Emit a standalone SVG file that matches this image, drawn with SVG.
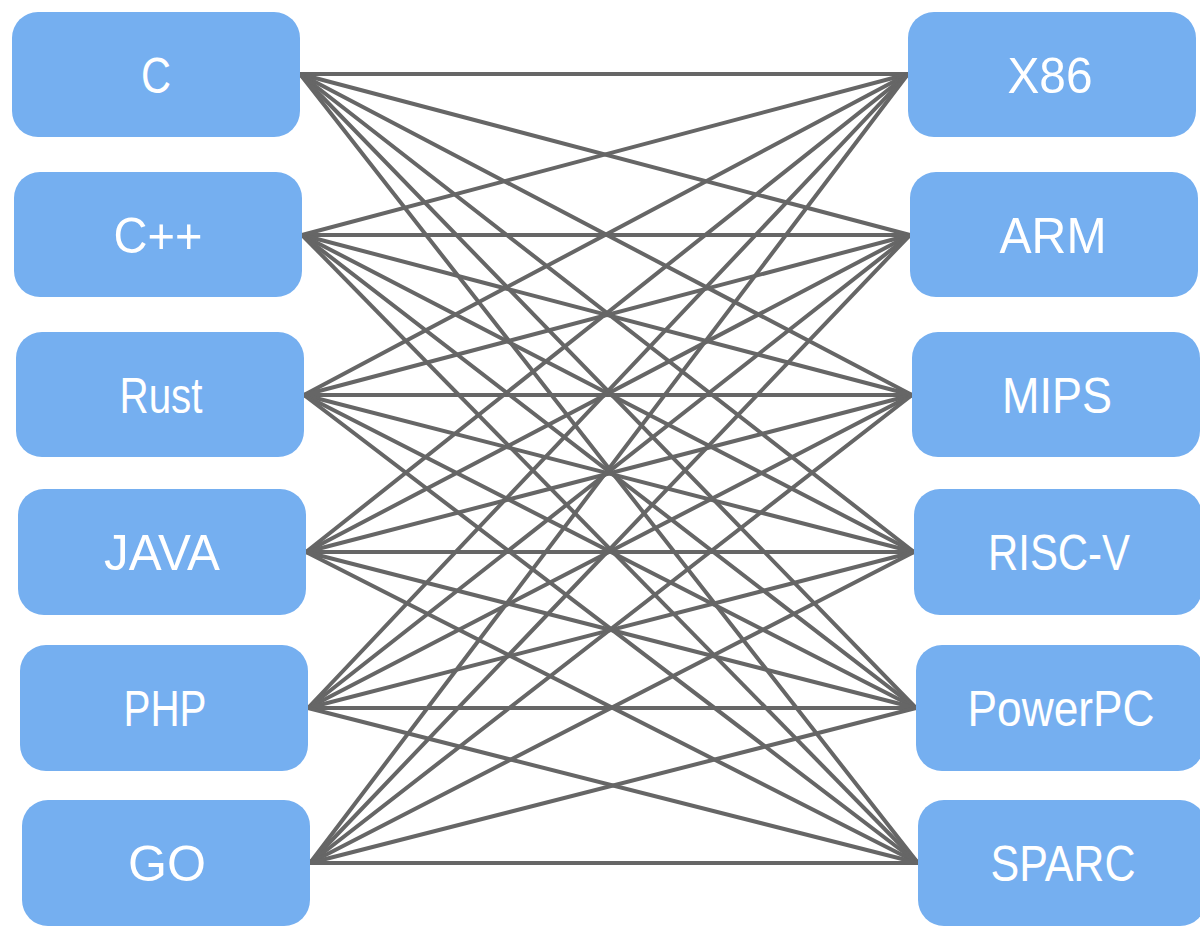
<svg xmlns="http://www.w3.org/2000/svg" width="1200" height="927" viewBox="0 0 1200 927">
<style>
.box{fill:#75AFF0;}
.lbl{fill:#ffffff;font-family:"Liberation Sans",Arial,sans-serif;font-size:50px;text-anchor:middle;}
.edge{stroke:#666666;stroke-width:4;stroke-linecap:round;fill:none;}
</style>
<rect width="1200" height="927" fill="#ffffff"/>
<g id="connectors">
<!-- C -->
<line class="edge" x1="300" y1="74" x2="908" y2="74"/>
<line class="edge" x1="300" y1="74" x2="910" y2="235"/>
<line class="edge" x1="300" y1="74" x2="912" y2="395"/>
<line class="edge" x1="300" y1="74" x2="914" y2="552"/>
<line class="edge" x1="300" y1="74" x2="916" y2="708"/>
<line class="edge" x1="300" y1="74" x2="918" y2="863"/>
<!-- C++ -->
<line class="edge" x1="302" y1="235" x2="908" y2="74"/>
<line class="edge" x1="302" y1="235" x2="910" y2="235"/>
<line class="edge" x1="302" y1="235" x2="912" y2="395"/>
<line class="edge" x1="302" y1="235" x2="914" y2="552"/>
<line class="edge" x1="302" y1="235" x2="916" y2="708"/>
<line class="edge" x1="302" y1="235" x2="918" y2="863"/>
<!-- Rust -->
<line class="edge" x1="304" y1="395" x2="908" y2="74"/>
<line class="edge" x1="304" y1="395" x2="910" y2="235"/>
<line class="edge" x1="304" y1="395" x2="912" y2="395"/>
<line class="edge" x1="304" y1="395" x2="914" y2="552"/>
<line class="edge" x1="304" y1="395" x2="916" y2="708"/>
<line class="edge" x1="304" y1="395" x2="918" y2="863"/>
<!-- JAVA -->
<line class="edge" x1="306" y1="552" x2="908" y2="74"/>
<line class="edge" x1="306" y1="552" x2="910" y2="235"/>
<line class="edge" x1="306" y1="552" x2="912" y2="395"/>
<line class="edge" x1="306" y1="552" x2="914" y2="552"/>
<line class="edge" x1="306" y1="552" x2="916" y2="708"/>
<line class="edge" x1="306" y1="552" x2="918" y2="863"/>
<!-- PHP -->
<line class="edge" x1="308" y1="708" x2="908" y2="74"/>
<line class="edge" x1="308" y1="708" x2="910" y2="235"/>
<line class="edge" x1="308" y1="708" x2="912" y2="395"/>
<line class="edge" x1="308" y1="708" x2="914" y2="552"/>
<line class="edge" x1="308" y1="708" x2="916" y2="708"/>
<line class="edge" x1="308" y1="708" x2="918" y2="863"/>
<!-- GO -->
<line class="edge" x1="310" y1="863" x2="908" y2="74"/>
<line class="edge" x1="310" y1="863" x2="910" y2="235"/>
<line class="edge" x1="310" y1="863" x2="912" y2="395"/>
<line class="edge" x1="310" y1="863" x2="914" y2="552"/>
<line class="edge" x1="310" y1="863" x2="916" y2="708"/>
<line class="edge" x1="310" y1="863" x2="918" y2="863"/>
</g>
<g id="node-c"><rect class="box" x="12" y="12" width="288" height="125" rx="26"/><text class="lbl" x="156" y="93" textLength="30" lengthAdjust="spacingAndGlyphs">C</text></g>
<g id="node-cpp"><rect class="box" x="14" y="172" width="288" height="125" rx="26"/><text class="lbl" x="158" y="253" textLength="89" lengthAdjust="spacingAndGlyphs">C++</text></g>
<g id="node-rust"><rect class="box" x="16" y="332" width="288" height="125" rx="26"/><text class="lbl" x="161" y="413" textLength="83" lengthAdjust="spacingAndGlyphs">Rust</text></g>
<g id="node-java"><rect class="box" x="18" y="489" width="288" height="126" rx="26"/><text class="lbl" x="162" y="570" textLength="116" lengthAdjust="spacingAndGlyphs">JAVA</text></g>
<g id="node-php"><rect class="box" x="20" y="645" width="288" height="126" rx="26"/><text class="lbl" x="165" y="726" textLength="83" lengthAdjust="spacingAndGlyphs">PHP</text></g>
<g id="node-go"><rect class="box" x="22" y="800" width="288" height="126" rx="26"/><text class="lbl" x="167" y="881" textLength="78" lengthAdjust="spacingAndGlyphs">GO</text></g>
<g id="node-x86"><rect class="box" x="908" y="12" width="288" height="125" rx="26"/><text class="lbl" x="1050" y="93" textLength="85" lengthAdjust="spacingAndGlyphs">X86</text></g>
<g id="node-arm"><rect class="box" x="910" y="172" width="288" height="125" rx="26"/><text class="lbl" x="1053" y="253" textLength="107" lengthAdjust="spacingAndGlyphs">ARM</text></g>
<g id="node-mips"><rect class="box" x="912" y="332" width="288" height="125" rx="26"/><text class="lbl" x="1057" y="413" textLength="110" lengthAdjust="spacingAndGlyphs">MIPS</text></g>
<g id="node-riscv"><rect class="box" x="914" y="489" width="288" height="126" rx="26"/><text class="lbl" x="1059" y="570" textLength="142" lengthAdjust="spacingAndGlyphs">RISC-V</text></g>
<g id="node-powerpc"><rect class="box" x="916" y="645" width="288" height="126" rx="26"/><text class="lbl" x="1061" y="726" textLength="187" lengthAdjust="spacingAndGlyphs">PowerPC</text></g>
<g id="node-sparc"><rect class="box" x="918" y="800" width="288" height="126" rx="26"/><text class="lbl" x="1063" y="881" textLength="145" lengthAdjust="spacingAndGlyphs">SPARC</text></g>
</svg>
